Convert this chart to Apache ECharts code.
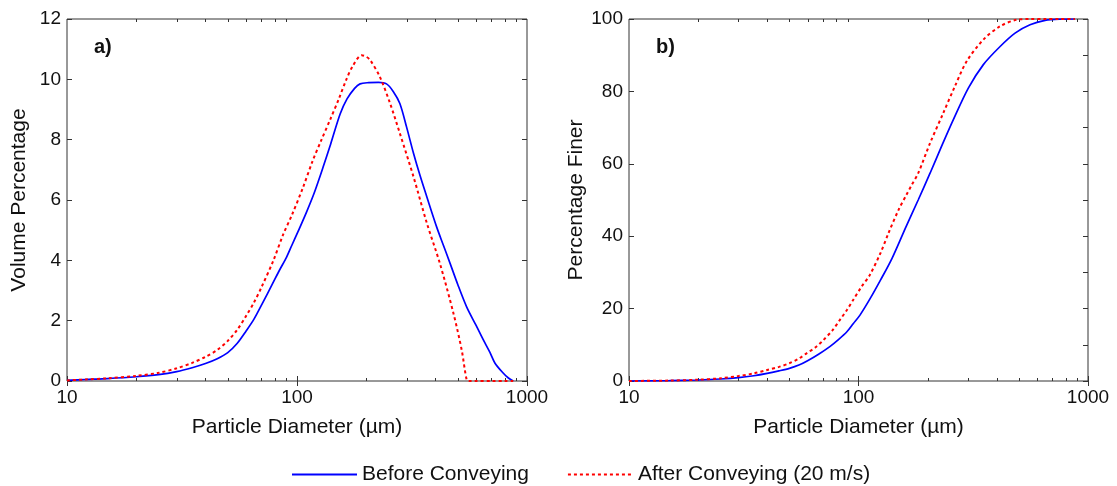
<!DOCTYPE html>
<html>
<head>
<meta charset="utf-8">
<script src="https://cdn.jsdelivr.net/npm/echarts@6/dist/echarts.min.js"></script>
<style>
  html, body { margin: 0; padding: 0; background: #fff; }
  #chart { width: 1117px; height: 486px; }
</style>
</head>
<body>
<div id="chart"></div>
<script>
// Particle size distributions, before and after pneumatic conveying

// a) volume percentage per size class
const diamVolBefore = [10, 12, 15, 20, 25, 30, 35, 40, 45, 50, 55, 60, 65, 71, 78, 84, 90, 95, 101, 110, 119, 130, 140, 154, 165, 178, 188, 205, 226, 245, 262, 280, 300, 321, 343, 367, 405, 433, 463, 500, 547, 600, 646, 690, 726, 780, 830, 871];
const volBefore     = [0.02, 0.05, 0.08, 0.14, 0.21, 0.31, 0.44, 0.58, 0.74, 0.94, 1.25, 1.65, 2.05, 2.6, 3.2, 3.68, 4.1, 4.5, 4.95, 5.6, 6.25, 7.1, 7.85, 8.85, 9.35, 9.7, 9.85, 9.89, 9.9, 9.85, 9.6, 9.2, 8.4, 7.55, 6.8, 6.1, 5.1, 4.5, 3.9, 3.2, 2.45, 1.85, 1.36, 0.95, 0.59, 0.3, 0.1, 0];

const diamVolAfter = [10, 12, 15, 20, 25, 30, 35, 40, 45, 50, 55, 60, 65, 70, 79, 87, 95, 106, 117, 127, 140, 152, 164, 175, 191, 200, 208, 229, 254, 280, 321, 367, 418, 479, 520, 547, 560, 600, 700, 800, 871];
const volAfter     = [0.02, 0.05, 0.09, 0.17, 0.27, 0.42, 0.6, 0.8, 1.03, 1.33, 1.7, 2.15, 2.6, 3.1, 4.0, 4.85, 5.5, 6.4, 7.3, 7.95, 8.7, 9.35, 10.0, 10.45, 10.8, 10.75, 10.64, 10.09, 9.2, 8.21, 6.77, 5.23, 3.9, 2.24, 1.03, 0.03, 0, 0, 0, 0, 0];

// b) cumulative percentage finer
const diamCumBefore = [10, 15, 20, 25, 30, 35, 40, 45, 50, 55, 60, 67, 75, 82, 89, 95, 101.5, 112, 125, 140, 161, 182, 205, 230, 259, 301, 350, 414, 481, 559, 650, 750, 877];
const cumBefore     = [0, 0.1, 0.28, 0.55, 0.92, 1.45, 2.1, 2.8, 3.5, 4.4, 5.6, 7.4, 9.5, 11.5, 13.6, 15.9, 18.2, 22.6, 28.0, 33.9, 42.6, 50.0, 57.4, 64.8, 72.2, 80.9, 87.4, 92.4, 96.1, 98.4, 99.6, 99.95, 100];

const diamCumAfter = [10, 15, 20, 25, 30, 35, 40, 45, 50, 55, 59.4, 65, 70.3, 77, 83, 89, 94.8, 103, 112, 125, 135, 150, 162, 170, 182, 205, 234, 263, 296, 350, 414, 489, 560, 650, 750, 877];
const cumAfter     = [0, 0.12, 0.35, 0.75, 1.38, 2.1, 3.04, 3.9, 4.9, 6.2, 7.65, 9.3, 11.3, 14.0, 16.9, 19.6, 22.4, 26.0, 29.3, 35.5, 40.8, 47.5, 51.5, 54.0, 57.4, 65.7, 74.0, 81.4, 88.3, 94.3, 98.0, 99.8, 100, 100, 100, 100];

// axis ranges and log minor tick positions
const diamRange = [10, 1000];
const volRange = [0, 12];
const cumRange = [0, 100];
const minorTicks = [20, 30, 40, 50, 60, 70, 80, 90, 200, 300, 400, 500, 600, 700, 800, 900];

const seriesNames = ['Before Conveying', 'After Conveying (20 m/s)'];
const panelLabels = ['a)', 'b)'];
const xName = 'Particle Diameter (\u00b5m)';
const yNames = ['Volume Percentage', 'Percentage Finer'];

const FONT = "'Liberation Sans', Arial, Helvetica, sans-serif";
const AXIS_COLOR = '#333333';
const TEXT_COLOR = '#111111';
const BLUE = '#0000ff';
const RED = '#ff0000';

const zip = (xs, ys) => xs.map((x, i) => [x, ys[i]]);

function xAxes(gridIndex) {
  const common = {
    type: 'log', logBase: 10, min: diamRange[0], max: diamRange[1], splitNumber: 2,
    gridIndex: gridIndex,
    axisLine: { show: false },
    splitLine: { show: false },
    axisTick: { inside: true, length: 5, lineStyle: { color: AXIS_COLOR, width: 1 } }
  };
  return [
    Object.assign({}, common, {
      position: 'bottom',
      axisLabel: { color: TEXT_COLOR, fontFamily: FONT, fontSize: 19, margin: 7,
        formatter: v => String(Math.round(v)) },
      name: xName, nameLocation: 'middle', nameGap: 36,
      nameTextStyle: { color: TEXT_COLOR, fontFamily: FONT, fontSize: 21 }
    }),
    Object.assign({}, common, { position: 'top', axisLabel: { show: false } })
  ];
}

function yAxes(gridIndex, range, step, rightStep, name, gap) {
  const common = {
    type: 'value', min: range[0], max: range[1], gridIndex: gridIndex,
    axisLine: { show: false },
    splitLine: { show: false },
    axisTick: { inside: true, length: 5, lineStyle: { color: AXIS_COLOR, width: 1 } }
  };
  return [
    Object.assign({}, common, {
      position: 'left', interval: step,
      axisLabel: { color: TEXT_COLOR, fontFamily: FONT, fontSize: 19, margin: 6 },
      name: name, nameLocation: 'middle', nameGap: gap,
      nameTextStyle: { color: TEXT_COLOR, fontFamily: FONT, fontSize: 21 }
    }),
    Object.assign({}, common, { position: 'right', interval: rightStep, axisLabel: { show: false } })
  ];
}

function curve(name, data, xi, yi, color, dashed) {
  return {
    type: 'line', name: name, data: data,
    xAxisIndex: xi, yAxisIndex: yi,
    showSymbol: false, symbol: 'none',
    smooth: 0.3,
    lineStyle: { color: color, width: dashed ? 2 : 1.7, type: dashed ? [3, 3] : 'solid' },
    itemStyle: { color: color },
    emphasis: { disabled: true },
    animation: false
  };
}

// short inward ticks at the log minor positions, bottom and top of a panel
function minorTickSeries(xi, yi, range) {
  return {
    type: 'custom', xAxisIndex: xi, yAxisIndex: yi, silent: true, animation: false,
    data: minorTicks.map(v => [v, range[0]]),
    renderItem: (params, api) => {
      const v = api.value(0);
      const b = api.coord([v, range[0]]);
      const t = api.coord([v, range[1]]);
      const x = Math.round(b[0]) + 0.5;
      const st = { stroke: AXIS_COLOR, lineWidth: 1 };
      return { type: 'group', children: [
        { type: 'line', shape: { x1: x, y1: b[1], x2: x, y2: b[1] - 3 }, style: st },
        { type: 'line', shape: { x1: x, y1: t[1], x2: x, y2: t[1] + 3 }, style: st }
      ]};
    }
  };
}

const chart = echarts.init(document.getElementById('chart'), null, { renderer: 'canvas' });

chart.setOption({
  backgroundColor: '#ffffff',
  animation: false,
  textStyle: { fontFamily: FONT },
  title: [
    { text: panelLabels[0], left: 89, top: 32, textStyle: { fontFamily: FONT, fontSize: 20, fontWeight: 'bold', color: TEXT_COLOR } },
    { text: panelLabels[1], left: 651, top: 32, textStyle: { fontFamily: FONT, fontSize: 20, fontWeight: 'bold', color: TEXT_COLOR } }
  ],
  grid: [
    { left: 67, top: 19, width: 460, height: 362, show: true, borderColor: AXIS_COLOR, borderWidth: 1, backgroundColor: 'transparent' },
    { left: 629, top: 19, width: 459, height: 362, show: true, borderColor: AXIS_COLOR, borderWidth: 1, backgroundColor: 'transparent' }
  ],
  xAxis: xAxes(0).concat(xAxes(1)),
  yAxis: yAxes(0, volRange, 2, 2, yNames[0], 37).concat(yAxes(1, cumRange, 20, 10, yNames[1], 42)),
  legend: {
    data: seriesNames,
    left: 291, top: 464, padding: 0,
    itemWidth: 65, itemHeight: 20, itemGap: 38,
    itemStyle: { opacity: 0 },
    textStyle: { fontFamily: FONT, fontSize: 21, color: TEXT_COLOR },
    selectedMode: false
  },
  series: [
    curve(seriesNames[0], zip(diamVolBefore, volBefore), 0, 0, BLUE, false),
    curve(seriesNames[1], zip(diamVolAfter, volAfter), 0, 0, RED, true),
    curve(seriesNames[0], zip(diamCumBefore, cumBefore), 2, 2, BLUE, false),
    curve(seriesNames[1], zip(diamCumAfter, cumAfter), 2, 2, RED, true),
    minorTickSeries(0, 0, volRange),
    minorTickSeries(2, 2, cumRange)
  ]
});
</script>
</body>
</html>
